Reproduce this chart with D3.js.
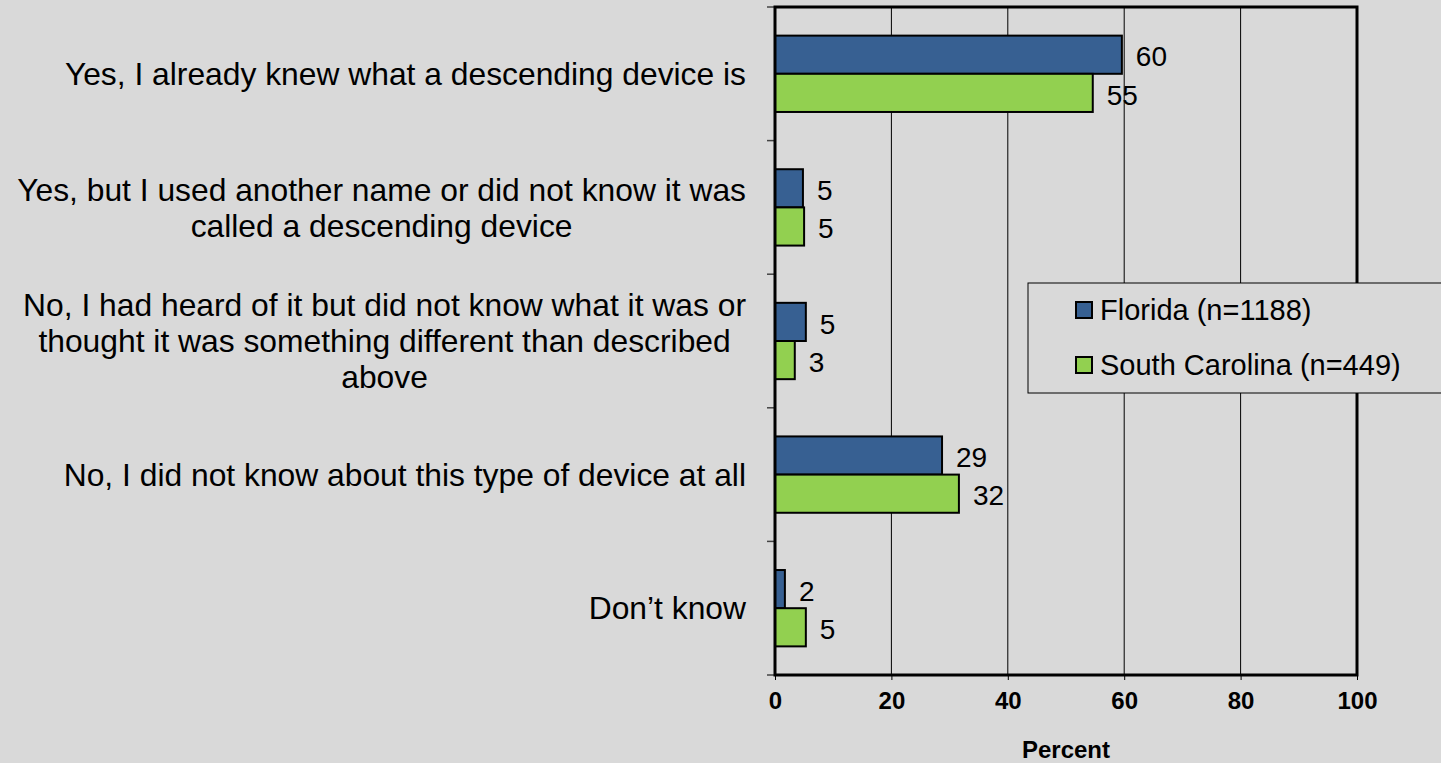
<!DOCTYPE html>
<html>
<head>
<meta charset="utf-8">
<script src="https://cdn.jsdelivr.net/npm/d3@7"></script>
<style>
  body { margin: 0; background: #d9d9d9; overflow: hidden; }
  svg { display: block; font-family: "Liberation Sans", Arial, sans-serif; }
</style>
</head>
<body>
<svg width="1441" height="763"></svg>
<script>
// answer categories (each entry = lines of the wrapped label)
var categories = [
  ["Yes, I already knew what a descending device is"],
  ["Yes, but I used another name or did not know it was", "called a descending device"],
  ["No, I had heard of it but did not know what it was or", "thought it was something different than described", "above"],
  ["No, I did not know about this type of device at all"],
  ["Don\u2019t know"]
];
var seriesNames = ["Florida (n=1188)", "South Carolina (n=449)"];
var florida = [59.6, 4.8, 5.3, 28.7, 1.7];
var southCarolina = [54.6, 5.0, 3.4, 31.6, 5.3];
var xTicks = [0, 20, 40, 60, 80, 100];
var colors = ["#376092", "#92d050"];

var svg = d3.select("svg"),
  margin = {top: 7, left: 775, right: 84, bottom: 88},
  width = +svg.attr("width") - margin.left - margin.right,
  height = +svg.attr("height") - margin.top - margin.bottom,
  g = svg.append("g")
    .attr("transform", "translate(" + margin.left + "," + margin.top + ")");

var x = d3.scaleLinear().domain([0, 100]).range([0, width]);
var y = d3.scaleBand().domain(d3.range(categories.length)).range([0, height]);
var inner = d3.scaleBand().domain([0, 1]).range([0, y.bandwidth()]).paddingOuter(0.75);

// vertical gridlines
g.append("g")
  .selectAll("line")
  .data(xTicks.slice(1, -1))
  .enter().append("line")
  .attr("x1", d => x(d)).attr("x2", d => x(d))
  .attr("y1", 0).attr("y2", height)
  .attr("stroke", "#000")
  .attr("stroke-width", 1);

// x axis
var xAxis = g.append("g")
  .attr("transform", "translate(0," + height + ")")
  .call(d3.axisBottom(x).tickValues(xTicks).tickSize(5).tickPadding(12));
xAxis.select(".domain").remove();
xAxis.selectAll("text")
  .attr("font-size", 24)
  .attr("font-weight", "bold")
  .attr("font-family", "Liberation Sans, Arial, sans-serif")
  .attr("fill", "#000");

// y axis ticks at band edges
g.append("g")
  .selectAll("line")
  .data(d3.range(categories.length + 1))
  .enter().append("line")
  .attr("x1", -8).attr("x2", 0)
  .attr("y1", d => d * y.step()).attr("y2", d => d * y.step())
  .attr("stroke", "#444")
  .attr("stroke-width", 1.5);

var series = [florida, southCarolina];

series.forEach(function(values, si) {
  g.append("g")
    .selectAll("rect")
    .data(values)
    .enter().append("rect")
    .attr("x", 0)
    .attr("y", (d, i) => y(i) + inner(si))
    .attr("width", d => x(d))
    .attr("height", inner.bandwidth())
    .attr("fill", colors[si])
    .attr("stroke", "#000")
    .attr("stroke-width", 2);

  g.append("g")
    .selectAll("text")
    .data(values)
    .enter().append("text")
    .attr("x", d => x(d) + 14)
    .attr("y", (d, i) => y(i) + inner(si) + inner.bandwidth() / 2)
    .attr("dy", "0.42em")
    .attr("font-size", 28)
    .text(d => Math.round(d));
});

// plot frame
g.append("rect")
  .attr("width", width).attr("height", height)
  .attr("fill", "none")
  .attr("stroke", "#000")
  .attr("stroke-width", 3);

// category labels: block right aligned, lines centred inside it
var lineH = 36;
categories.forEach(function(lines, i) {
  var t = svg.append("text")
    .attr("font-size", 31.8)
    .attr("fill", "#000")
    .attr("text-anchor", "middle");
  var spans = lines.map(function(l, k) {
    return t.append("tspan").text(l)
      .attr("y", margin.top + y(i) + y.bandwidth() / 2 + (k - (lines.length - 1) / 2) * lineH)
      .attr("dy", "0.35em");
  });
  var maxW = d3.max(spans, s => s.node().getComputedTextLength());
  spans.forEach(s => s.attr("x", 746 - maxW / 2));
});

// x axis title
svg.append("text")
  .attr("x", margin.left + width / 2)
  .attr("y", 750)
  .attr("dy", "0.35em")
  .attr("text-anchor", "middle")
  .attr("font-size", 24)
  .attr("font-weight", "bold")
  .text("Percent");

// legend
var legend = svg.append("g").attr("transform", "translate(1028,283)");
legend.append("rect")
  .attr("width", 420).attr("height", 110)
  .attr("fill", "#d9d9d9")
  .attr("stroke", "#000")
  .attr("stroke-width", 1);
seriesNames.forEach(function(name, i) {
  var row = legend.append("g").attr("transform", "translate(48," + (27 + i * 55) + ")");
  row.append("rect")
    .attr("y", -8).attr("width", 16).attr("height", 16)
    .attr("fill", colors[i])
    .attr("stroke", "#000")
    .attr("stroke-width", 2);
  row.append("text")
    .attr("x", 24)
    .attr("dy", "0.35em")
    .attr("font-size", 29)
    .text(name);
});
</script>
</body>
</html>
